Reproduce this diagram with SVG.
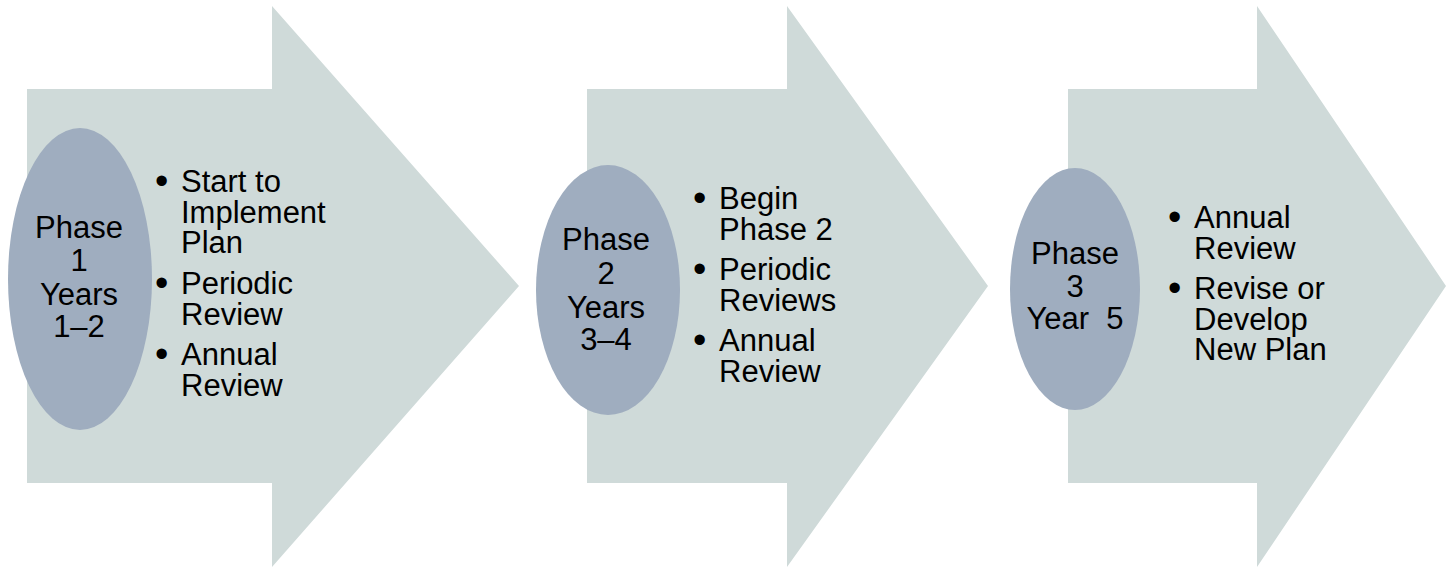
<svg xmlns="http://www.w3.org/2000/svg" width="1452" height="569" viewBox="0 0 1452 569">
  <style>
    .arrow { fill: #CFDAD9; }
    .oval { fill: #9FADBF; }
    text { font-family: "Liberation Sans", Arial, sans-serif; font-size: 31px; fill: #000; }
    text.dot { font-size: 38px; }
    .center { text-anchor: middle; }
    .pre { white-space: pre; }
  </style>
  <rect width="1452" height="569" fill="#ffffff"/>

  <!-- Phase 1 -->
  <g id="phase1">
    <polygon class="arrow" points="27,89 272,89 272,6 519,286 272,567 272,483 27,483"/>
    <ellipse class="oval" cx="80" cy="279" rx="72" ry="151"/>
    <text class="center" x="79" y="238">Phase<tspan x="79" dy="33">1</tspan><tspan x="79" dy="34">Years</tspan><tspan x="79" dy="32">1–2</tspan></text>
    <text class="dot" x="155" y="194">•</text>
    <text x="181" y="192">Start to<tspan x="181" dy="30.5">Implement</tspan><tspan x="181" dy="30.5">Plan</tspan></text>
    <text class="dot" x="155" y="296">•</text>
    <text x="181" y="294">Periodic<tspan x="181" dy="30.5">Review</tspan></text>
    <text class="dot" x="155" y="367">•</text>
    <text x="181" y="365">Annual<tspan x="181" dy="30.5">Review</tspan></text>
  </g>

  <!-- Phase 2 -->
  <g id="phase2">
    <polygon class="arrow" points="587,89 787,89 787,6 988,286 787,567 787,483 587,483"/>
    <ellipse class="oval" cx="608" cy="290" rx="72" ry="125"/>
    <text class="center" x="606" y="250">Phase<tspan x="606" dy="34">2</tspan><tspan x="606" dy="34">Years</tspan><tspan x="606" dy="32">3–4</tspan></text>
    <text class="dot" x="693" y="211">•</text>
    <text x="719" y="209">Begin<tspan x="719" dy="30.5">Phase 2</tspan></text>
    <text class="dot" x="693" y="282">•</text>
    <text x="719" y="280">Periodic<tspan x="719" dy="30.5">Reviews</tspan></text>
    <text class="dot" x="693" y="353">•</text>
    <text x="719" y="351">Annual<tspan x="719" dy="30.5">Review</tspan></text>
  </g>

  <!-- Phase 3 -->
  <g id="phase3">
    <polygon class="arrow" points="1068,89 1257,89 1257,6 1446,286 1257,567 1257,483 1068,483"/>
    <ellipse class="oval" cx="1075" cy="289" rx="65" ry="121"/>
    <text class="center pre" x="1075" y="264">Phase<tspan x="1075" dy="33">3</tspan><tspan x="1075" dy="32">Year  5</tspan></text>
    <text class="dot" x="1168" y="230">•</text>
    <text x="1194" y="228">Annual<tspan x="1194" dy="30.5">Review</tspan></text>
    <text class="dot" x="1168" y="301">•</text>
    <text x="1194" y="299">Revise or<tspan x="1194" dy="30.5">Develop</tspan><tspan x="1194" dy="30.5">New Plan</tspan></text>
  </g>

  <g id="connectors"/>
</svg>
